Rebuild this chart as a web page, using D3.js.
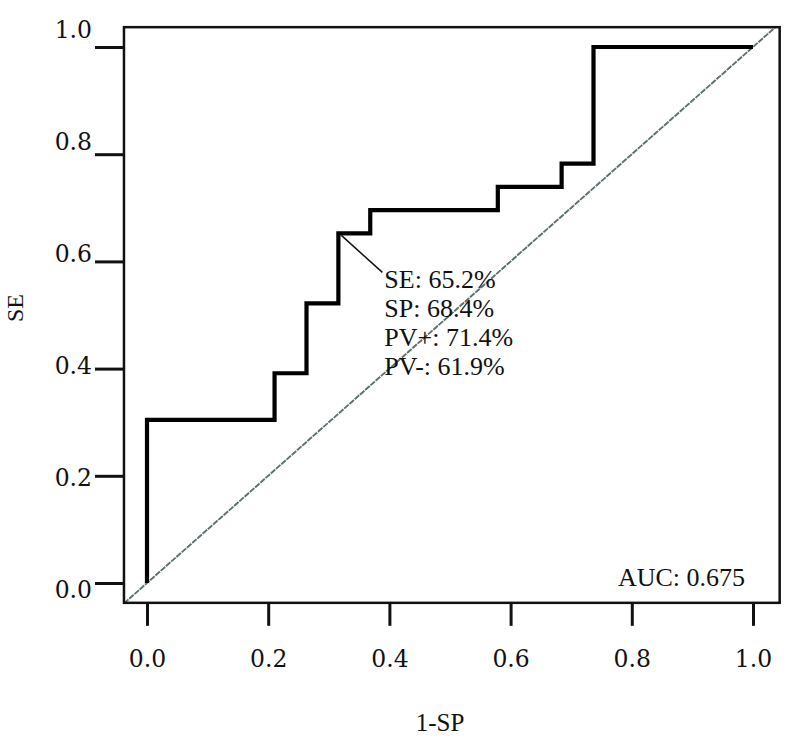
<!DOCTYPE html>
<html>
<head>
<meta charset="utf-8">
<script src="https://cdn.jsdelivr.net/npm/d3@7"></script>
<style>
  html, body { margin: 0; padding: 0; background: #fff; }
  svg text { font-family: "Liberation Serif", "DejaVu Serif", serif; fill: #111; }
  svg text.num { font-family: "DejaVu Serif", serif; }
</style>
</head>
<body>
<svg id="chart" width="810" height="754"></svg>
<script>
// ---- data ----
const rocX = [0, 0, 0.2105, 0.2105, 0.2632, 0.2632, 0.3158, 0.3158, 0.3684, 0.3684, 0.5789, 0.5789, 0.6842, 0.6842, 0.7368, 0.7368, 1.0];
const rocY = [0, 0.3043, 0.3043, 0.3913, 0.3913, 0.5217, 0.5217, 0.6522, 0.6522, 0.6957, 0.6957, 0.7391, 0.7391, 0.7826, 0.7826, 1.0, 1.0];
const tickValues = [0, 0.2, 0.4, 0.6, 0.8, 1.0];
const tickLabels = ["0.0", "0.2", "0.4", "0.6", "0.8", "1.0"];
const optimalPoint = [0.3158, 0.6522];
const annotationLines = ["SE: 65.2%", "SP: 68.4%", "PV+: 71.4%", "PV-: 61.9%"];
const aucLabel = "AUC: 0.675";
const xTitle = "1-SP";
const yTitle = "SE";
const frameLimits = [-0.038, 1.044];
const frameLimitsY = [-0.037, 1.037];

// ---- scales ----
const x = d3.scaleLinear().domain([0, 1]).range([147, 753]);
const y = d3.scaleLinear().domain([0, 1]).range([583, 47]);
const yLabelScale = d3.scaleLinear().domain([0, 1]).range([590, 30]);

const svg = d3.select("#chart");

const fx0 = x(frameLimits[0]), fx1 = x(frameLimits[1]);
const fy0 = y(frameLimitsY[0]), fy1 = y(frameLimitsY[1]);
svg.append("defs").append("clipPath").attr("id", "clip")
  .append("rect").attr("x", fx0).attr("y", fy1).attr("width", fx1 - fx0).attr("height", fy0 - fy1);

// diagonal reference line
svg.append("line")
  .attr("clip-path", "url(#clip)")
  .attr("x1", x(frameLimits[0])).attr("y1", y(frameLimits[0]))
  .attr("x2", x(frameLimits[1])).attr("y2", y(frameLimits[1]))
  .attr("stroke", "#5d7070").attr("stroke-width", 1.9)
  .attr("stroke-dasharray", "6,1");

// ROC curve
const pts = rocX.map((v, i) => [v, rocY[i]]);
svg.append("path")
  .datum(pts)
  .attr("d", d3.line().x(d => x(d[0])).y(d => y(d[1])))
  .attr("fill", "none").attr("stroke", "#000").attr("stroke-width", 4.2)
  .attr("stroke-linejoin", "miter").attr("stroke-linecap", "butt");

// frame
svg.append("rect")
  .attr("x", fx0).attr("y", fy1).attr("width", fx1 - fx0).attr("height", fy0 - fy1)
  .attr("fill", "none").attr("stroke", "#111").attr("stroke-width", 2.5);

// y axis ticks
const yAxis = d3.axisLeft(y).tickValues(tickValues).tickSize(29).tickFormat("");
const gy = svg.append("g").attr("transform", `translate(${fx0},0)`).call(yAxis);
gy.select(".domain").remove();
gy.selectAll(".tick line").attr("stroke", "#111").attr("stroke-width", 3);
svg.selectAll(".ylab").data(tickValues).enter().append("text")
  .attr("class", "ylab num")
  .attr("x", 92).attr("y", d => yLabelScale(d))
  .attr("dy", "0.36em")
  .attr("text-anchor", "end").attr("font-size", 23.5)
  .text((d, i) => tickLabels[i]);

// x axis ticks
const xAxis = d3.axisBottom(x).tickValues(tickValues).tickSize(23).tickFormat((d, i) => tickLabels[i]).tickPadding(24);
const gx = svg.append("g").attr("transform", `translate(0,${fy0})`).call(xAxis);
gx.select(".domain").remove();
gx.selectAll(".tick line").attr("stroke", "#111").attr("stroke-width", 3);
gx.selectAll(".tick text").attr("class", "num").attr("font-size", 23.5)
  .attr("font-family", null).attr("fill", "#111");
gx.attr("font-family", null).attr("font-size", null);

// axis titles
svg.append("text").attr("x", 440).attr("y", 731).attr("text-anchor", "middle")
  .attr("font-size", 25).text(xTitle);
svg.append("text").attr("transform", "translate(23,308) rotate(-90)").attr("text-anchor", "middle")
  .attr("font-size", 24).text(yTitle);

// annotation
const px = x(optimalPoint[0]), py = y(optimalPoint[1]);
svg.append("line").attr("x1", px + 3).attr("y1", py + 2).attr("x2", px + 44).attr("y2", py + 39)
  .attr("stroke", "#111").attr("stroke-width", 1.5);
svg.selectAll(".ann").data(annotationLines).enter().append("text")
  .attr("class", "ann")
  .attr("x", px + 46).attr("y", (d, i) => py + 55 + i * 28.7)
  .attr("font-size", 26).text(d => d);

// AUC
svg.append("text").attr("x", 745).attr("y", 586).attr("text-anchor", "end")
  .attr("font-size", 26).text(aucLabel);
</script>
</body>
</html>
